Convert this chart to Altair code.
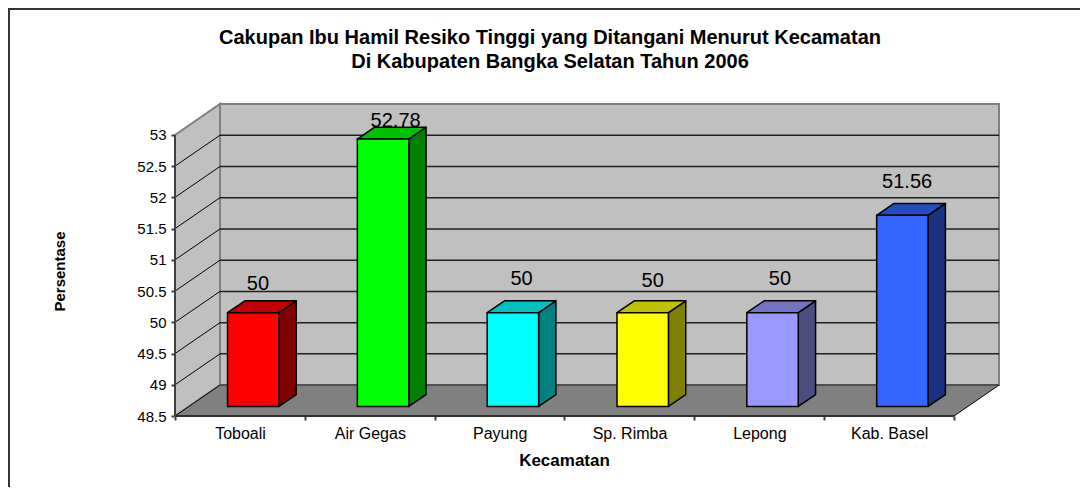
import json
import altair as alt
import pandas as pd

names = ["Toboali", "Air Gegas", "Payung", "Sp. Rimba", "Lepong", "Kab. Basel"]
values = [50, 52.78, 50, 50, 50, 51.56]
labels = ["50", "52.78", "50", "50", "50", "51.56"]
front = ["#FF0000", "#00FF00", "#00FFFF", "#FFFF00", "#9999FF", "#3366FF"]
side = ["#800000", "#008000", "#008080", "#808000", "#4D4D80", "#1A3380"]
top = ["#C00000", "#00C000", "#00C0C0", "#C0C000", "#7373C0", "#264DC0"]
label_shift_x = [-0.03, 0.03, 0.0, 0.01, -0.01, -0.03]
label_shift_y = [0.606, 0.44, 0.70, 0.654, 0.686, 0.69]
y_ticks = [48.5, 49, 49.5, 50, 50.5, 51, 51.5, 52, 52.5, 53]
x_ticks = [0, 1, 2, 3, 4, 5, 6]
title_lines = ["Cakupan Ibu Hamil Resiko Tinggi yang Ditangani Menurut Kecamatan",
               "Di Kabupaten Bangka Selatan Tahun 2006"]

Y_MIN, Y_MAX, N = 48.5, 53, 6
DX, DY = 0.3467, 0.4947      # depth of the 3-D box in axis units
F0, F1 = 0.31, 0.695         # front / back of the bars inside the depth
BW = 0.396                   # bar width in category units
BAR_SHIFT = -0.005           # small sideways nudge of the bars
FONT = "Liberation Sans"

xs = alt.Scale(domain=[0, N + DX], nice=False, zero=False)
ys = alt.Scale(domain=[Y_MIN, Y_MAX + DY], nice=False, zero=False)

x_axis = alt.Axis(
    values=x_ticks, domain=False, grid=False,
    tickColor="#404040", tickWidth=2, tickSize=4,
    labelExpr="(" + json.dumps(names) + ")[datum.value] || ''",
    labelOffset=65, labelFontSize=16, labelFont=FONT,
    labelColor="#000000", labelPadding=5, labelBound=False,
    labelFlush=False, labelOverlap=False, labelAngle=0,
    titleX=389, titleY=44, titleFontSize=17, titleFont=FONT,
    titleFontWeight="bold", titleColor="#000000",
    titleAlign="center", titleBaseline="middle",
)
y_axis = alt.Axis(
    values=y_ticks, format=".1~f", domain=False, grid=False,
    tickColor="#404040", tickWidth=2, tickSize=4,
    labelFontSize=15, labelFont=FONT, labelColor="#000000",
    labelPadding=5, labelBound=False, labelFlush=False, labelOverlap=False,
    titleX=-116, titleY=167, titleAngle=270, titleFontSize=15,
    titleFont=FONT, titleFontWeight="bold", titleColor="#000000",
    titleAlign="center", titleBaseline="middle",
)


def X(f):
    return alt.X(f, type="quantitative", scale=xs, axis=x_axis, title="Kecamatan")


def Y(f):
    return alt.Y(f, type="quantitative", scale=ys, axis=y_axis, title="Persentase")


X2 = alt.X2
Y2 = alt.Y2

# ---- box: walls and floor
wall_df = pd.DataFrame({"x": [DX], "x2": [N + DX], "y": [Y_MIN + DY], "y2": [Y_MAX + DY]})
back_wall = (
    alt.Chart(wall_df)
    .mark_rect(fill="#C0C0C0", stroke="#808080", strokeWidth=2)
    .encode(x=X("x"), x2=X2("x2"), y=Y("y"), y2=Y2("y2"))
)

left_wall = (
    alt.Chart(pd.DataFrame({
        "x": [0, DX], "y": [Y_MIN, Y_MIN + DY], "y2": [Y_MAX, Y_MAX + DY],
    }))
    .mark_area(fill="#C0C0C0", stroke="#808080", strokeWidth=2)
    .encode(x=X("x"), y=Y("y"), y2=Y2("y2"))
)

floor = (
    alt.Chart(pd.DataFrame({
        "y": [Y_MIN, Y_MIN + DY], "x": [0, DX], "x2": [N, N + DX],
    }))
    .mark_area(fill="#808080", orient="horizontal")
    .encode(y=Y("y"), x=X("x"), x2=X2("x2"))
)

# ---- grid lines
grid_vals = [v for v in y_ticks if v < Y_MAX]
grid_df = pd.DataFrame({
    "v": grid_vals,
    "back": [v + DY for v in grid_vals],
})
grid_df["x0"], grid_df["xb"], grid_df["xe"] = 0.0, DX, N + DX
back_grid = (
    alt.Chart(grid_df[grid_df.v > Y_MIN])
    .mark_rule(color="#202020", strokeWidth=1.5)
    .encode(x=X("xb"), x2=X2("xe"), y=Y("back"))
)
side_grid = (
    alt.Chart(grid_df[grid_df.v > Y_MIN])
    .mark_rule(color="#000000", strokeWidth=1)
    .encode(x=X("x0"), x2=X2("xb"), y=Y("v"), y2=Y2("back"))
)
floor_back = (
    alt.Chart(grid_df[grid_df.v == Y_MIN])
    .mark_rule(color="#505050", strokeWidth=2)
    .encode(x=X("xb"), x2=X2("xe"), y=Y("back"))
)
edges_df = pd.DataFrame({
    "x": [0.0, N * 1.0], "x2": [DX, N + DX],
    "y": [Y_MIN, Y_MIN], "y2": [Y_MIN + DY, Y_MIN + DY],
})
floor_edges = (
    alt.Chart(edges_df)
    .mark_rule(color="#000000", strokeWidth=1)
    .encode(x=X("x"), x2=X2("x2"), y=Y("y"), y2=Y2("y2"))
)
axis_df = pd.DataFrame({"x": [0.0], "x2": [N * 1.0], "y": [Y_MIN], "y2": [Y_MAX]})
x_line = (
    alt.Chart(axis_df).mark_rule(color="#303030", strokeWidth=2)
    .encode(x=X("x"), x2=X2("x2"), y=Y("y"))
)
y_line = (
    alt.Chart(axis_df).mark_rule(color="#404040", strokeWidth=2)
    .encode(x=X("x"), y=Y("y"), y2=Y2("y2"))
)

# ---- bars
rows = []
for i, v in enumerate(values):
    x0 = i + (1 - BW) / 2 + F0 * DX + BAR_SHIFT
    rows.append({
        "i": i, "name": names[i], "value": v, "front": front[i], "side": side[i], "top": top[i],
        "x0": x0, "x1": x0 + BW,
        "yb": Y_MIN + F0 * DY, "yt": v + F0 * DY,
    })
bars = pd.DataFrame(rows)
ddx, ddy = (F1 - F0) * DX, (F1 - F0) * DY

poly = []
for _, r in bars.iterrows():
    for t in (0, 1):
        poly.append({
            "i": r.i, "side": r.side, "top": r.top,
            "sx": r.x1 + t * ddx, "sy": r.yb + t * ddy, "sy2": r.yt + t * ddy,
            "tx": r.x0 + t * ddx, "tx2": r.x1 + t * ddx, "ty": r.yt + t * ddy,
        })
poly = pd.DataFrame(poly)

bar_side = (
    alt.Chart(poly)
    .mark_area(stroke="#000000", strokeWidth=1.5, strokeJoin="round")
    .encode(x=X("sx"), y=Y("sy"), y2=Y2("sy2"),
            fill=alt.Fill("side:N", scale=None), detail="i:N")
)
bar_top = (
    alt.Chart(poly)
    .mark_area(stroke="#000000", strokeWidth=1.5, strokeJoin="round", orient="horizontal")
    .encode(y=Y("ty"), x=X("tx"), x2=X2("tx2"),
            fill=alt.Fill("top:N", scale=None), detail="i:N")
)
bar_front = (
    alt.Chart(bars)
    .mark_rect(stroke="#000000", strokeWidth=1.5)
    .encode(x=X("x0"), x2=X2("x1"), y=Y("yb"), y2=Y2("yt"),
            fill=alt.Fill("front:N", scale=None))
)

# ---- value labels
lab = pd.DataFrame({
    "t": labels,
    "x": [r["x0"] + BW / 2 + ddx / 2 + s for r, s in zip(rows, label_shift_x)],
    "y": [v + s for v, s in zip(values, label_shift_y)],
})
value_text = (
    alt.Chart(lab)
    .mark_text(font=FONT, fontSize=20, color="#000000", baseline="middle", align="center")
    .encode(x=X("x"), y=Y("y"), text="t:N")
)

# ---- chart title and outer frame lines (top and left only)
title_marks = [
    alt.Chart(axis_df)
    .mark_text(font=FONT, fontSize=20, fontWeight="bold", color="#000000",
               baseline="middle", align="center")
    .encode(x=alt.value(375), y=alt.value(offset), text=alt.value(line))
    for line, offset in zip(title_lines, [-66, -42])
]
frame_top = alt.Chart(axis_df).mark_rule(color="#333333", strokeWidth=2).encode(
    x=alt.value(-167), x2=alt.value(905), y=alt.value(-95))
frame_left = alt.Chart(axis_df).mark_rule(color="#333333", strokeWidth=2).encode(
    x=alt.value(-166), y=alt.value(-96), y2=alt.value(383))

chart = alt.layer(
    back_wall, left_wall, floor, back_grid, side_grid, floor_back, floor_edges,
    x_line, y_line, bar_side, bar_top, bar_front, value_text,
    *title_marks, frame_top, frame_left,
).properties(
    width=824, height=312,
    padding={"left": 167, "top": 96, "right": 81, "bottom": 71},
    autosize=alt.AutoSizeParams(type="none"),
    background="#FFFFFF",
).configure_view(stroke=None)

chart.save("out.html", embed_options={"renderer": "svg", "actions": False})
